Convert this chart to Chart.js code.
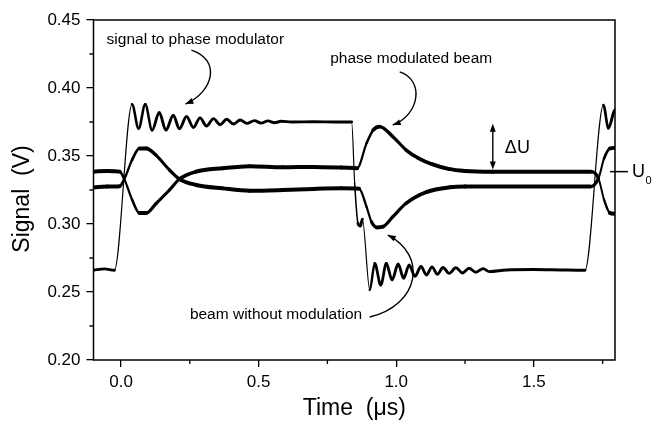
<!DOCTYPE html>
<html>
<head>
<meta charset="utf-8">
<script src="https://cdn.jsdelivr.net/npm/chart.js@4.4.1/dist/chart.umd.min.js"></script>
<style>
    html, body { margin: 0; padding: 0; background: #fff; }
    canvas { display: block; }
</style>
</head>
<body>
<canvas id="signalChart" width="654" height="422"></canvas>
<script>
// time in microseconds, signal in volts
const modulatorTime = [
    -0.100, -0.060, -0.024,
    0.040, 0.064, 0.088, 0.113, 0.139, 0.163, 0.190, 0.212, 0.238, 0.263,
    0.287, 0.311, 0.336, 0.360, 0.384, 0.409, 0.433, 0.457, 0.485, 0.509,
    0.534, 0.558, 0.582, 0.620, 0.700, 0.780, 0.838, 0.849, 0.861, 0.870,
    0.877, 0.904, 0.922, 0.944, 0.964, 0.985, 1.007, 1.027, 1.047, 1.068,
    1.090, 1.110, 1.130, 1.150, 1.170, 1.192, 1.217, 1.241, 1.265, 1.289,
    1.316, 1.338, 1.400, 1.500, 1.600, 1.686, 1.753, 1.771, 1.791, 1.795
];
const modulatorSignal = [
    0.266, 0.267, 0.266,
    0.388, 0.370, 0.388, 0.369, 0.382, 0.369, 0.380, 0.370, 0.379, 0.371,
    0.378, 0.372, 0.3775, 0.373, 0.377, 0.3735, 0.3765, 0.374, 0.376, 0.3742,
    0.3758, 0.3745, 0.3755, 0.375, 0.3752, 0.375, 0.375, 0.330, 0.3005, 0.2985,
    0.3035, 0.2515, 0.271, 0.255, 0.271, 0.2588, 0.2706, 0.260, 0.2699, 0.2615,
    0.2688, 0.2625, 0.2685, 0.263, 0.268, 0.2637, 0.2678, 0.264, 0.2675, 0.2645,
    0.2672, 0.265, 0.2662, 0.2665, 0.2662, 0.266, 0.3875, 0.3704, 0.3826, 0.384
];

const modulatedTime = [
    -0.100, -0.050, -0.005, 0.012, 0.040, 0.067, 0.091, 0.127, 0.176, 0.212,
    0.273, 0.370, 0.467, 0.588, 0.700, 0.800, 0.858, 0.892, 0.916, 0.940,
    0.988, 1.036, 1.080, 1.130, 1.190, 1.250, 1.350, 1.500, 1.600, 1.708,
    1.735, 1.755, 1.777, 1.795
];
const modulatedSignal = [
    0.3385, 0.339, 0.3385, 0.333, 0.318, 0.308, 0.308, 0.315, 0.325, 0.333,
    0.3385, 0.341, 0.3425, 0.3417, 0.342, 0.3415, 0.341, 0.3593, 0.369, 0.3716,
    0.3642, 0.3544, 0.3485, 0.344, 0.3405, 0.339, 0.3385, 0.3385, 0.3385, 0.3385,
    0.3336, 0.318, 0.308, 0.3075
];

const unmodulatedTime = [
    -0.100, -0.050, -0.005, 0.012, 0.040, 0.067, 0.091, 0.127, 0.176, 0.212,
    0.273, 0.370, 0.467, 0.588, 0.700, 0.800, 0.865, 0.892, 0.910, 0.930,
    0.952, 0.988, 1.036, 1.110, 1.195, 1.250, 1.400, 1.550, 1.705, 1.735,
    1.755, 1.777, 1.795
];
const unmodulatedSignal = [
    0.327, 0.3275, 0.3278, 0.333, 0.347, 0.3556, 0.3556, 0.3507, 0.3397, 0.333,
    0.3287, 0.3262, 0.3245, 0.325, 0.3258, 0.3262, 0.326, 0.3127, 0.3017, 0.2975,
    0.298, 0.3054, 0.3152, 0.3235, 0.327, 0.3275, 0.3275, 0.3275, 0.3275, 0.3336,
    0.348, 0.3556, 0.356
];

const xTicks = [0, 0.5, 1.0, 1.5];
const xMinorTicks = [0.25, 0.75, 1.25, 1.75];
const yTicks = [0.20, 0.25, 0.30, 0.35, 0.40, 0.45];
const yMinorTicks = [0.225, 0.275, 0.325, 0.375, 0.425];

// annotation text and arrows, in data units (us, V)
const notes = [
    { text: 'signal to phase modulator', x: 0.270, y: 0.4353 },
    { text: 'phase modulated beam', x: 1.0546, y: 0.4218 },
    { text: 'beam without modulation', x: 0.5633, y: 0.2331 }
];
const noteArrows = [
    [[0.2558, 0.4279], [0.3650, 0.4206], [0.3359, 0.3971], [0.2340, 0.3882]],
    [[1.0127, 0.4118], [1.1037, 0.4059], [1.0855, 0.3801], [0.9873, 0.3728]],
    [[0.9035, 0.2316], [1.0855, 0.2404], [1.1146, 0.2772], [0.9691, 0.2919]]
];
const deltaU = { x: 1.351, top: 0.3738, bottom: 0.3400 };
const levelU0 = 0.3385;

const FONT = '"Liberation Sans", Arial, Helvetica, sans-serif';
Chart.defaults.font.family = FONT;
Chart.defaults.color = '#000';

function series(t, v) {
    return t.map((tv, i) => ({ x: tv, y: v[i] }));
}

// noisy beam traces look thick when flat and thin when sloped
function traceWidth(base, noise) {
    return c => {
        const dx = Math.abs(c.p1.x - c.p0.x);
        const dy = Math.abs(c.p1.y - c.p0.y);
        const len = Math.hypot(dx, dy) || 1;
        return base + noise * dx / len;
    };
}

// the modulator signal is thin only on its fast edges
function edgeWidth(c) {
    const dy = Math.abs(c.p1.y - c.p0.y);
    const k = Math.min(1, Math.max(0, (45 - dy) / 25));
    return 1.2 + 1.7 * k;
}

function arrowHead(ctx, tx, ty, fx, fy) {
    const a = Math.atan2(ty - fy, tx - fx);
    const len = 8, half = 3;
    ctx.beginPath();
    ctx.moveTo(tx, ty);
    ctx.lineTo(tx - len * Math.cos(a) + half * Math.sin(a), ty - len * Math.sin(a) - half * Math.cos(a));
    ctx.lineTo(tx - len * Math.cos(a) - half * Math.sin(a), ty - len * Math.sin(a) + half * Math.cos(a));
    ctx.closePath();
    ctx.fill();
}

const overlay = {
    id: 'overlay',
    afterDraw(chart) {
        const { ctx, chartArea: a, scales: { x, y } } = chart;
        const px = v => x.getPixelForValue(v);
        const py = v => y.getPixelForValue(v);
        ctx.save();
        ctx.strokeStyle = '#000';
        ctx.fillStyle = '#000';

        // frame
        ctx.lineWidth = 1.5;
        ctx.strokeRect(a.left, a.top, a.right - a.left, a.bottom - a.top);

        // minor ticks
        ctx.lineWidth = 1.3;
        ctx.beginPath();
        xMinorTicks.forEach(v => { ctx.moveTo(px(v), a.bottom); ctx.lineTo(px(v), a.bottom + 4); });
        yMinorTicks.forEach(v => { ctx.moveTo(a.left, py(v)); ctx.lineTo(a.left - 4, py(v)); });
        ctx.stroke();

        // axis titles
        ctx.font = '23px ' + FONT;
        ctx.textAlign = 'center';
        ctx.textBaseline = 'middle';
        ctx.fillText('Time  (\u03bcs)', (a.left + a.right) / 2, 408.5);
        ctx.save();
        ctx.translate(23, 199);
        ctx.rotate(-Math.PI / 2);
        ctx.fillText('Signal  (V)', 0, 0);
        ctx.restore();

        // notes
        ctx.font = '15.5px ' + FONT;
        notes.forEach(n => ctx.fillText(n.text, px(n.x), py(n.y)));

        ctx.lineWidth = 1.4;
        noteArrows.forEach(p => {
            const q = p.map(([u, v]) => [px(u), py(v)]);
            ctx.beginPath();
            ctx.moveTo(q[0][0], q[0][1]);
            ctx.bezierCurveTo(q[1][0], q[1][1], q[2][0], q[2][1], q[3][0], q[3][1]);
            ctx.stroke();
            arrowHead(ctx, q[3][0], q[3][1], q[2][0], q[2][1]);
        });

        // delta U marker
        const dx = px(deltaU.x), y0 = py(deltaU.top), y1 = py(deltaU.bottom);
        ctx.beginPath();
        ctx.moveTo(dx, y0 + 4);
        ctx.lineTo(dx, y1 - 4);
        ctx.stroke();
        arrowHead(ctx, dx, y0, dx, y0 + 10);
        arrowHead(ctx, dx, y1, dx, y1 - 10);
        ctx.font = '18px ' + FONT;
        ctx.textAlign = 'left';
        ctx.fillText('\u0394U', px(1.3948), py(0.3559));

        // U0 level marker
        const uy = py(levelU0);
        ctx.lineWidth = 1.5;
        ctx.beginPath();
        ctx.moveTo(px(1.777), uy);
        ctx.lineTo(px(1.842), uy);
        ctx.stroke();
        ctx.fillText('U', px(1.857), uy);
        const uw = ctx.measureText('U').width;
        ctx.font = '11px ' + FONT;
        ctx.fillText('0', px(1.857) + uw + 0.5, uy + 9);
        ctx.restore();
    }
};

const ctx = document.getElementById('signalChart').getContext('2d');
const chart = new Chart(ctx, {
    type: 'line',
    data: {
        datasets: [
            {
                label: 'signal to phase modulator',
                data: series(modulatorTime, modulatorSignal),
                borderColor: '#000',
                segment: { borderWidth: edgeWidth }
            },
            {
                label: 'phase modulated beam',
                data: series(modulatedTime, modulatedSignal),
                borderColor: '#000',
                segment: { borderWidth: traceWidth(1.3, 2.7) }
            },
            {
                label: 'beam without modulation',
                data: series(unmodulatedTime, unmodulatedSignal),
                borderColor: '#000',
                segment: { borderWidth: traceWidth(1.3, 2.7) }
            }
        ]
    },
    options: {
        responsive: false,
        animation: false,
        layout: { padding: { left: 0, right: 39, top: 20, bottom: 0 } },
        elements: {
            point: { radius: 0 },
            line: {
                cubicInterpolationMode: 'monotone',
                borderCapStyle: 'round',
                borderJoinStyle: 'round'
            }
        },
        plugins: {
            legend: { display: false },
            tooltip: { enabled: false }
        },
        scales: {
            x: {
                type: 'linear',
                min: -0.1,
                max: 1.795,
                afterBuildTicks: s => { s.ticks = xTicks.map(v => ({ value: v })); },
                afterFit: s => { s.height = 62; },
                border: { display: false },
                grid: { drawOnChartArea: false, tickLength: 7, color: '#000', lineWidth: 1.3 },
                ticks: {
                    autoSkip: false,
                    maxRotation: 0,
                    padding: 5,
                    font: { size: 17 },
                    callback: v => v.toFixed(1)
                }
            },
            y: {
                min: 0.2,
                max: 0.45,
                afterBuildTicks: s => { s.ticks = yTicks.map(v => ({ value: v })); },
                afterFit: s => { s.width = 93.5; },
                border: { display: false },
                grid: { drawOnChartArea: false, tickLength: 7, color: '#000', lineWidth: 1.3 },
                ticks: {
                    padding: 6,
                    font: { size: 17 },
                    callback: v => v.toFixed(2)
                }
            }
        }
    },
    plugins: [overlay]
});
</script>
</body>
</html>
